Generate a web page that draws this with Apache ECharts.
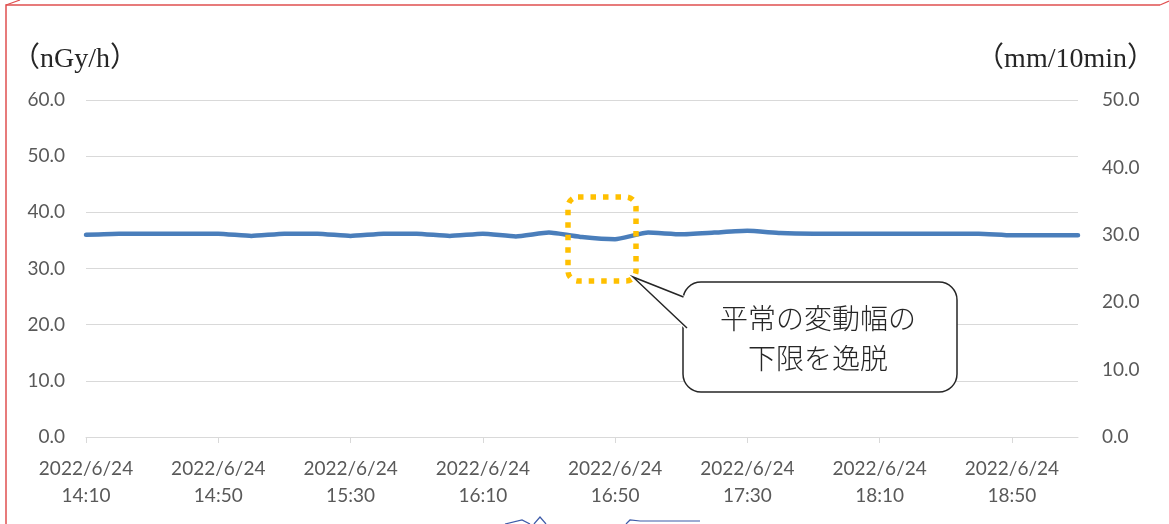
<!DOCTYPE html>
<html>
<head>
<meta charset="utf-8">
<script src="https://cdn.jsdelivr.net/npm/echarts@6/dist/echarts.min.js"></script>
<style>
  html, body { margin: 0; padding: 0; background: #fff; }
  #chart { width: 1169px; height: 524px; }
</style>
</head>
<body>
<div id="chart"></div>
<script>
// Time of each 10-minute reading (date and time on two lines)
const categories = [
  '2022/6/24\n14:10', '2022/6/24\n14:20', '2022/6/24\n14:30', '2022/6/24\n14:40',
  '2022/6/24\n14:50', '2022/6/24\n15:00', '2022/6/24\n15:10', '2022/6/24\n15:20',
  '2022/6/24\n15:30', '2022/6/24\n15:40', '2022/6/24\n15:50', '2022/6/24\n16:00',
  '2022/6/24\n16:10', '2022/6/24\n16:20', '2022/6/24\n16:30', '2022/6/24\n16:40',
  '2022/6/24\n16:50', '2022/6/24\n17:00', '2022/6/24\n17:10', '2022/6/24\n17:20',
  '2022/6/24\n17:30', '2022/6/24\n17:40', '2022/6/24\n17:50', '2022/6/24\n18:00',
  '2022/6/24\n18:10', '2022/6/24\n18:20', '2022/6/24\n18:30', '2022/6/24\n18:40',
  '2022/6/24\n18:50', '2022/6/24\n19:00', '2022/6/24\n19:10'
];

// Air dose rate (nGy/h)
const doseRate = [
  36.0, 36.2, 36.2, 36.2, 36.2, 35.8, 36.2, 36.2,
  35.8, 36.2, 36.2, 35.8, 36.2, 35.7, 36.4, 35.6,
  35.2, 36.4, 36.1, 36.4, 36.7, 36.3, 36.2, 36.2,
  36.2, 36.2, 36.2, 36.2, 35.9, 35.9, 35.9
];

// Axis ranges
const leftAxis = { min: 0, max: 60, step: 10 };
const rightAxis = { min: 0, max: 50, step: 10 };

const unitLeft = '（nGy/h）';
const unitRight = '（mm/10min）';
const calloutLines = ['平常の変動幅の', '下限を逸脱'];

const tickFont = 'Lato, "Open Sans", sans-serif';
const unitFont = '"Liberation Serif", "Noto Sans CJK JP", serif';
const cjkFont = '"Noto Sans CJK JP", sans-serif';

const chart = echarts.init(document.getElementById('chart'), null, { renderer: 'canvas' });

chart.setOption({
  animation: false,
  backgroundColor: '#ffffff',
  grid: { left: 86, right: 91, top: 100, bottom: 87, containLabel: false },
  xAxis: {
    type: 'category',
    data: categories,
    boundaryGap: false,
    axisLine: { show: true, lineStyle: { color: '#d9d9d9', width: 1 } },
    axisTick: { show: true, interval: 3, length: 6, lineStyle: { color: '#d9d9d9' } },
    axisLabel: {
      interval: 3,
      margin: 18,
      color: '#595959',
      fontFamily: tickFont,
      fontSize: 19,
      lineHeight: 27,
      align: 'center'
    },
    splitLine: { show: false }
  },
  yAxis: [
    {
      type: 'value',
      position: 'left',
      min: leftAxis.min,
      max: leftAxis.max,
      interval: leftAxis.step,
      axisLine: { show: false },
      axisTick: { show: false },
      axisLabel: {
        margin: 21,
        color: '#595959',
        fontFamily: tickFont,
        fontSize: 19,
        formatter: v => v.toFixed(1)
      },
      splitLine: { show: true, lineStyle: { color: '#d9d9d9', width: 1 } }
    },
    {
      type: 'value',
      position: 'right',
      min: rightAxis.min,
      max: rightAxis.max,
      interval: rightAxis.step,
      axisLine: { show: false },
      axisTick: { show: false },
      axisLabel: {
        margin: 24,
        color: '#595959',
        fontFamily: tickFont,
        fontSize: 19,
        formatter: v => v.toFixed(1)
      },
      splitLine: { show: false }
    }
  ],
  series: [
    {
      type: 'line',
      yAxisIndex: 0,
      data: doseRate,
      showSymbol: false,
      smooth: 0.15,
      lineStyle: { color: '#4a7ebb', width: 4.5, join: 'round', cap: 'round' },
      itemStyle: { color: '#4a7ebb' }
    }
  ],
  graphic: [
    // red frame of the figure
    {
      type: 'polyline', silent: true, z: 100,
      shape: { points: [[6, 524], [6, 5], [1160, 5]] },
      style: { stroke: '#e05050', lineWidth: 1.5, fill: null }
    },
    {
      type: 'line', silent: true, z: 100,
      shape: { x1: 6, y1: 5, x2: 20, y2: 0 },
      style: { stroke: '#e05050', lineWidth: 1.2 }
    },
    {
      type: 'line', silent: true, z: 100,
      shape: { x1: 1160, y1: 5, x2: 1169, y2: 1 },
      style: { stroke: '#e05050', lineWidth: 1.2 }
    },
    // unit captions
    {
      type: 'text', left: 12, top: 46,
      style: { text: unitLeft, font: '28px ' + unitFont, fill: '#262626' }
    },
    {
      type: 'text', right: 14, top: 46,
      style: { text: unitRight, font: '28px ' + unitFont, fill: '#262626', textAlign: 'right' }
    },
    // dotted highlight box
    {
      type: 'rect', silent: true, z: 50,
      shape: { x: 568, y: 197, width: 68, height: 84, r: 10 },
      style: { fill: null, stroke: '#ffc000', lineWidth: 5.5, lineDash: [5.5, 7] }
    },
    // speech bubble
    {
      type: 'rect', silent: true, z: 60,
      shape: { x: 683, y: 282, width: 274, height: 110, r: 18 },
      style: { fill: '#ffffff', stroke: '#262626', lineWidth: 1.5 }
    },
    {
      type: 'polygon', silent: true, z: 61,
      shape: { points: [[685, 296], [633, 277], [685, 329]] },
      style: { fill: '#ffffff', stroke: null }
    },
    {
      type: 'polyline', silent: true, z: 62,
      shape: { points: [[683.5, 297], [633, 277], [687, 328]] },
      style: { fill: null, stroke: '#262626', lineWidth: 1.5 }
    },
    {
      type: 'text', silent: true, z: 63, x: 818, y: 318,
      style: {
        text: calloutLines[0], font: '300 28px ' + cjkFont, fill: '#262626',
        textAlign: 'center', textVerticalAlign: 'middle'
      }
    },
    {
      type: 'text', silent: true, z: 63, x: 818, y: 358,
      style: {
        text: calloutLines[1], font: '300 28px ' + cjkFont, fill: '#262626',
        textAlign: 'center', textVerticalAlign: 'middle'
      }
    },
    // fragments of the drawing that continues below
    {
      type: 'polyline', silent: true,
      shape: { points: [[505, 524], [522, 520], [530, 524]] },
      style: { fill: null, stroke: '#3d5aa8', lineWidth: 1.2 }
    },
    {
      type: 'polyline', silent: true,
      shape: { points: [[534, 524], [540, 517], [546, 524]] },
      style: { fill: null, stroke: '#3d5aa8', lineWidth: 1.2 }
    },
    {
      type: 'polyline', silent: true,
      shape: { points: [[626, 524], [630, 520], [640, 521], [700, 521]] },
      style: { fill: null, stroke: '#3d5aa8', lineWidth: 1.2 }
    }
  ]
});
</script>
</body>
</html>
